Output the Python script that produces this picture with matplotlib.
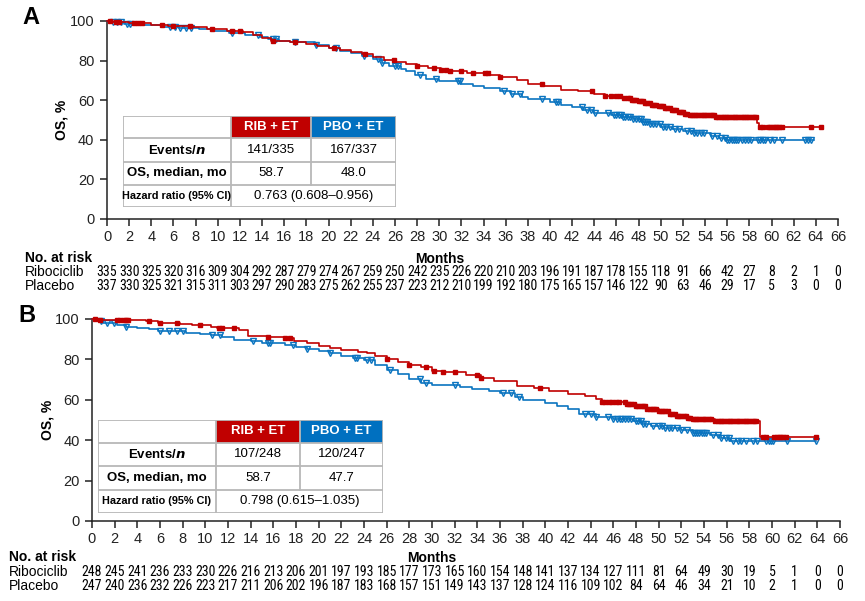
import numpy as np
import matplotlib
matplotlib.use("Agg")
import matplotlib.pyplot as plt
from matplotlib.patches import Rectangle
from matplotlib import font_manager as fm

plt.rcParams['font.family'] = ['Liberation Sans', 'DejaVu Sans']

# pick a narrow font for the at-risk numbers if available
_names = {f.name for f in fm.fontManager.ttflist}
NARROW = None
for _n in ['Liberation Sans Narrow', 'Roboto Condensed', 'Open Sans Condensed', 'Arial Narrow']:
    if _n in _names:
        NARROW = _n
        break
if NARROW:
    RISK_FONT = dict(family=[NARROW, 'DejaVu Sans'], size=10)
else:
    RISK_FONT = dict(family=['Liberation Sans', 'DejaVu Sans'], size=8.4)

W, H = 865, 601
RED = '#c00000'
BLUE = '#0a74c0'

months_ticks = list(range(0, 67, 2))
risk_rib_A = [335, 330, 325, 320, 316, 309, 304, 292, 287, 279, 274, 267, 259, 250, 242, 235, 226, 220, 210, 203, 196, 191, 187, 178, 155, 118, 91, 66, 42, 27, 8, 2, 1, 0]
risk_pbo_A = [337, 330, 325, 321, 315, 311, 303, 297, 290, 283, 275, 262, 255, 237, 223, 212, 210, 199, 192, 180, 175, 165, 157, 146, 122, 90, 63, 46, 29, 17, 5, 3, 0, 0]
risk_rib_B = [248, 245, 241, 236, 233, 230, 226, 216, 213, 206, 201, 197, 193, 185, 177, 173, 165, 160, 154, 148, 141, 137, 134, 127, 111, 81, 64, 49, 30, 19, 5, 1, 0, 0]
risk_pbo_B = [247, 240, 236, 232, 226, 223, 217, 211, 206, 202, 196, 187, 183, 168, 157, 151, 149, 143, 137, 128, 124, 116, 109, 102, 84, 64, 46, 34, 21, 10, 2, 1, 0, 0]

# Kaplan-Meier step points (months, OS %)
rib_A_t = [0, 0.5, 2, 4, 5.5, 7.8, 9, 10.8, 12.3, 13.2, 14, 14.8, 16.5, 18, 19, 20, 21, 22, 23, 24, 25, 26, 27, 28, 29, 30.2, 30.8, 32.5, 34.5, 35.5, 37, 38, 39.5, 41, 42.5, 44, 45, 46.5, 47.3, 47.9, 48.5, 49.1, 49.7, 50.3, 50.9, 51.5, 52.1, 52.5, 55, 58.7, 58.9, 64.5]
rib_A_s = [100, 99.5, 98.8, 98.2, 97.5, 97, 95.8, 94.8, 94.3, 93, 91.5, 90, 89.5, 88.5, 87.5, 86.5, 85.3, 84.3, 83.3, 82, 80.5, 79.3, 78.3, 77.5, 76.5, 75.5, 74.8, 73.5, 72.5, 71.5, 70, 68, 67, 65.3, 64.5, 63, 62, 61.3, 60.3, 59.4, 58.6, 57.8, 56.9, 55.9, 54.9, 54.0, 53.2, 52.5, 51.5, 48.5, 46.3, 46.3]
pbo_A_t = [0, 0.3, 1.5, 3, 5, 6.5, 8.3, 9.5, 11, 12.5, 13.8, 14.5, 15.5, 16.5, 18.8, 20, 21, 22, 23, 24, 24.8, 25.5, 26.5, 27, 27.8, 28.8, 30, 32, 33, 34, 35.5, 36.5, 37.5, 38, 40, 41, 42, 43, 44, 45.5, 46.5, 47.5, 48.3, 49, 50, 51, 52, 53, 54.5, 55.3, 56, 63.8]
pbo_A_s = [100, 99.3, 98.5, 97.8, 97, 96.3, 95.8, 95, 94, 93, 92, 91, 90, 89.5, 88, 86.5, 85, 83.8, 82.3, 81, 79, 77.3, 76, 74.5, 72.5, 70.5, 69.5, 68.3, 67.2, 66, 64.5, 63.3, 61.5, 60.5, 59, 57.5, 56.5, 55, 53.7, 52.5, 51.5, 50.3, 49, 48, 46.5, 45.5, 44.5, 43.5, 42, 41, 40, 40]
rib_B_t = [0, 0.5, 4.8, 5.8, 7.8, 8.8, 10.5, 11, 13, 13.8, 15.5, 17, 17.8, 19, 20, 21, 22, 23.5, 24.3, 25, 26, 27, 28, 29, 30, 31, 33, 34.3, 35.5, 37.5, 39, 40.3, 42, 43.5, 44.5, 45, 47.2, 48, 49, 50, 51, 51.5, 52.5, 53, 55, 58.9, 64]
rib_B_s = [100, 99.5, 99, 98, 97.5, 96.8, 96, 95.5, 94.5, 91.8, 91, 90.5, 89, 88, 86.8, 85.8, 84.5, 83.8, 83, 81.5, 80, 78.5, 77.3, 76, 74.5, 74, 72.5, 71, 69.5, 67, 66, 64.5, 63, 62, 60.3, 59, 58, 56.8, 55.5, 54.5, 53, 52, 51, 50.5, 49.3, 41.8, 41.8]
pbo_B_t = [0, 0.4, 1, 2.2, 3, 4, 5, 5.8, 8.3, 9.5, 10.5, 11.5, 12.5, 14, 15, 17, 18, 19, 20, 21, 22, 23, 24, 25, 26, 27, 28, 29, 30, 32.5, 33.5, 35, 36, 37.3, 38, 40, 41, 42, 43, 44.5, 46, 47.7, 48.5, 49.3, 50.5, 52, 53, 54.5, 55.5, 56.3, 63.9]
pbo_B_s = [100, 99, 98, 97.2, 96.2, 95.5, 95, 94, 93.3, 92.8, 92, 91.2, 89.5, 89, 88, 87, 86.3, 85.3, 84.3, 83, 81.5, 80.5, 79.5, 77.3, 75, 73, 70.5, 68.5, 67.5, 66.5, 65.5, 64.5, 63.2, 61.5, 60, 58.5, 57, 55.5, 53, 51.7, 50.5, 49.5, 48, 46.8, 46, 45, 43.8, 42.5, 41, 39.5, 39.5]

# censoring times (months)
cens_rib_A = [0.3, 0.8, 1.1, 2.4, 2.8, 3.2, 5.0, 6.0, 7.5, 9.5, 11.3, 12.0, 15.0, 17.0, 20.5, 23.3, 25.9, 28.0, 29.5, 30.2, 30.6, 31.0, 32.0, 33.0, 34.1, 34.4, 35.5, 39.3, 43.8, 45.0, 45.5, 46.0, 46.3, 46.7, 47.0, 47.2, 47.4, 47.6, 47.8, 48.0, 48.2, 48.4, 48.6, 48.8, 49.0, 49.2, 49.4, 49.6, 49.8, 50.0, 50.2, 50.4, 50.6, 50.8, 51.0, 51.2, 51.4, 51.6, 51.8, 52.0, 52.2, 52.4, 52.6, 52.8, 53.0, 53.2, 53.4, 53.6, 53.8, 54.0, 54.2, 54.4, 54.6, 54.8, 55.0, 55.2, 55.4, 55.6, 55.8, 56.0, 56.2, 56.4, 56.6, 56.8, 57.0, 57.2, 57.4, 57.6, 57.8, 58.0, 58.2, 58.4, 58.6, 59.0, 59.2, 59.7, 59.9, 60.1, 60.3, 60.5, 60.7, 60.9, 63.6, 64.5]
cens_pbo_A = [0.5, 0.9, 1.3, 1.8, 2.1, 5.7, 6.1, 6.6, 7.1, 7.6, 11.3, 13.6, 15.0, 15.3, 17.0, 18.9, 20.7, 23.2, 24.5, 24.8, 26.0, 26.3, 28.3, 29.7, 31.7, 31.9, 35.8, 36.6, 37.3, 39.3, 40.5, 40.7, 42.9, 43.3, 43.7, 44.1, 45.2, 45.8, 46.0, 46.2, 46.4, 46.6, 46.8, 47.0, 47.2, 47.5, 47.8, 48.0, 48.2, 48.4, 48.6, 48.8, 49.0, 49.3, 49.6, 49.9, 50.2, 50.5, 50.8, 51.3, 51.6, 52.4, 52.7, 53.0, 53.3, 53.6, 53.9, 54.6, 55.1, 55.4, 55.8, 56.0, 56.2, 56.4, 56.6, 56.8, 57.0, 57.3, 57.6, 57.9, 58.1, 58.8, 59.0, 59.2, 59.4, 59.9, 60.2, 60.9, 63.0, 63.3, 63.6]
cens_rib_B = [0.3, 0.7, 2.2, 2.5, 2.8, 3.0, 3.2, 5.0, 6.0, 7.5, 9.5, 11.2, 11.5, 12.5, 15.5, 17.0, 17.5, 26.0, 28.0, 29.5, 30.2, 31.0, 32.0, 34.0, 34.3, 39.5, 45.0, 45.3, 45.6, 45.9, 46.2, 46.5, 47.0, 47.2, 47.4, 47.6, 47.8, 48.0, 48.2, 48.4, 48.6, 48.8, 49.0, 49.2, 49.4, 49.6, 49.8, 50.0, 50.2, 50.4, 50.6, 50.8, 51.0, 51.2, 51.4, 51.6, 51.8, 52.0, 52.2, 52.4, 52.6, 52.8, 53.0, 53.2, 53.4, 53.6, 53.8, 54.0, 54.2, 54.4, 54.6, 55.0, 55.2, 55.4, 55.6, 55.8, 56.0, 56.2, 56.4, 56.6, 56.8, 57.0, 57.2, 57.4, 57.6, 57.8, 58.0, 58.2, 58.4, 58.6, 59.2, 59.5, 60.2, 60.4, 60.6, 60.8, 61.0, 61.2, 63.9]
cens_pbo_B = [0.8, 1.3, 1.9, 3.0, 6.0, 6.8, 7.5, 8.0, 10.6, 11.3, 14.2, 15.5, 15.7, 17.7, 19.0, 21.0, 23.2, 23.4, 24.3, 24.6, 26.3, 28.9, 29.5, 32.0, 36.3, 37.0, 37.7, 43.5, 44.0, 44.5, 45.5, 46.0, 46.3, 46.6, 46.8, 47.0, 47.3, 47.6, 48.0, 48.2, 48.4, 48.6, 48.9, 49.5, 50.0, 50.3, 50.6, 50.9, 51.2, 51.6, 52.0, 52.5, 53.0, 53.2, 53.4, 53.6, 53.8, 54.0, 54.2, 54.8, 55.2, 55.5, 55.9, 56.2, 56.6, 57.0, 57.3, 57.7, 58.3, 58.7, 59.5, 59.7, 59.9, 60.1, 61.3, 63.9]

table_A = {'events': ['141/335', '167/337'], 'median': ['58.7', '48.0'], 'hr': '0.763 (0.608–0.956)'}
table_B = {'events': ['107/248', '120/247'], 'median': ['58.7', '47.7'], 'hr': '0.798 (0.615–1.035)'}

fig = plt.figure(figsize=(W / 100, H / 100), dpi=100)
fig.patch.set_facecolor('white')


def step_val(t, s, c):
    t = np.asarray(t); s = np.asarray(s)
    idx = np.searchsorted(t, c, side='right') - 1
    return s[np.clip(idx, 0, len(s) - 1)]


def panel(letter, left, right, top, bottom, risk_rib, risk_pbo, rt, rs, pt, ps, cr, cp, tab, tabbox,
          label_x, ylab_x, months_y, risk_y1, risk_y2, letter_xy):
    ax = fig.add_axes([left / W, 1 - bottom / H, (right - left) / W, (bottom - top) / H])
    ax.set_xlim(0, 66)
    ax.set_ylim(0, 100)
    for sp in ['top', 'right']:
        ax.spines[sp].set_visible(False)
    for sp in ['left', 'bottom']:
        ax.spines[sp].set_linewidth(1.1)
        ax.spines[sp].set_color('#222222')
    ax.set_xticks(months_ticks)
    ax.set_yticks([0, 20, 40, 60, 80, 100])
    ax.tick_params(axis='both', labelsize=10.5, length=5, width=1.1, pad=3, colors='#222222')
    ax.tick_params(axis='y', pad=4)
    # curves
    ax.step(pt, ps, where='post', color=BLUE, lw=1.2, clip_on=False, zorder=3)
    ax.step(rt, rs, where='post', color=RED, lw=1.2, clip_on=False, zorder=4)
    ax.plot(cp, step_val(pt, ps, cp), ls='none', marker='v', ms=5, mfc='none', mec=BLUE, mew=1.0,
            clip_on=False, zorder=3)
    ax.plot(cr, step_val(rt, rs, cr), ls='none', marker='s', ms=3, mfc=RED, mec=RED,
            clip_on=False, zorder=4)
    # y label
    fig.text(ylab_x / W, 1 - ((top + bottom) / 2) / H, 'OS, %', rotation=90, fontsize=10,
             fontweight='bold', ha='center', va='center')
    fig.text(letter_xy[0] / W, 1 - letter_xy[1] / H, letter, fontsize=17, fontweight='bold',
             ha='left', va='center')
    # at risk
    tr = ax.get_xaxis_transform()
    hgt = bottom - top
    yax = lambda ypx: (bottom - ypx) / hgt
    fig.text(label_x / W, 1 - months_y / H, 'No. at risk', fontsize=10, fontweight='bold',
             ha='left', va='center')
    ax.text(30, yax(months_y + 1), 'Months', transform=tr, fontsize=10, fontweight='bold',
            ha='center', va='center')
    fig.text(label_x / W, 1 - risk_y1 / H, 'Ribociclib', fontsize=10, ha='left', va='center')
    fig.text(label_x / W, 1 - risk_y2 / H, 'Placebo', fontsize=10, ha='left', va='center')
    for m, a, b in zip(months_ticks, risk_rib, risk_pbo):
        ax.text(m, yax(risk_y1), str(a), transform=tr, ha='center', va='center', clip_on=False, **RISK_FONT)
        ax.text(m, yax(risk_y2), str(b), transform=tr, ha='center', va='center', clip_on=False, **RISK_FONT)
    # table
    x0, x1, x2, x3, y0, y1, y2, y3, y4 = tabbox
    tax = fig.add_axes([x0 / W, 1 - y4 / H, (x3 - x0) / W, (y4 - y0) / H])
    tax.set_xlim(x0, x3)
    tax.set_ylim(y4, y0)
    tax.axis('off')
    edge = '#b8b8b8'
    tax.add_patch(Rectangle((x0, y0), x3 - x0, y4 - y0, facecolor='white', edgecolor='none', zorder=1))
    tax.add_patch(Rectangle((x1, y0), x2 - x1, y1 - y0, facecolor=RED, edgecolor='none', zorder=2))
    tax.add_patch(Rectangle((x2, y0), x3 - x2, y1 - y0, facecolor='#0070c0', edgecolor='none', zorder=2))
    lw = 1.3
    for yy in [y0, y1, y2, y3, y4]:
        tax.plot([x0, x3], [yy, yy], color=edge, lw=lw, zorder=3, solid_capstyle='butt')
    for xx in [x0, x1, x3]:
        tax.plot([xx, xx], [y0, y4], color=edge, lw=lw, zorder=3)
    tax.plot([x2, x2], [y0, y3], color=edge, lw=lw, zorder=3)
    cx0, cx1, cx2 = (x0 + x1) / 2, (x1 + x2) / 2, (x2 + x3) / 2
    tax.text(cx1, (y0 + y1) / 2, 'RIB + ET', color='white', fontweight='bold', fontsize=9.5, ha='center', va='center', zorder=4)
    tax.text(cx2, (y0 + y1) / 2, 'PBO + ET', color='white', fontweight='bold', fontsize=9.5, ha='center', va='center', zorder=4)
    tax.text(cx0, (y1 + y2) / 2, r'Events/$\bfit{n}$', fontweight='bold', fontsize=9.5, ha='center', va='center', zorder=4)
    tax.text(cx0, (y2 + y3) / 2, 'OS, median, mo', fontweight='bold', fontsize=9.5, ha='center', va='center', zorder=4)
    tax.text(cx0, (y3 + y4) / 2, 'Hazard ratio (95% CI)', fontweight='bold', fontsize=7.8, ha='center', va='center', zorder=4)
    tax.text(cx1, (y1 + y2) / 2, tab['events'][0], fontsize=9.5, ha='center', va='center', zorder=4)
    tax.text(cx2, (y1 + y2) / 2, tab['events'][1], fontsize=9.5, ha='center', va='center', zorder=4)
    tax.text(cx1, (y2 + y3) / 2, tab['median'][0], fontsize=9.5, ha='center', va='center', zorder=4)
    tax.text(cx2, (y2 + y3) / 2, tab['median'][1], fontsize=9.5, ha='center', va='center', zorder=4)
    tax.text((x1 + x3) / 2, (y3 + y4) / 2, tab['hr'], fontsize=9.5, ha='center', va='center', zorder=4)
    return ax


panel('A', 107, 838, 21, 219, risk_rib_A, risk_pbo_A, rib_A_t, rib_A_s, pbo_A_t, pbo_A_s,
      cens_rib_A, cens_pbo_A, table_A, (123, 231, 311, 396, 116, 138, 162, 185, 207),
      label_x=25, ylab_x=62, months_y=258, risk_y1=272, risk_y2=286, letter_xy=(22, 18))
panel('B', 92, 840, 319, 521, risk_rib_B, risk_pbo_B, rib_B_t, rib_B_s, pbo_B_t, pbo_B_s,
      cens_rib_B, cens_pbo_B, table_B, (98, 216, 300, 383, 420, 443, 466, 490, 513),
      label_x=9, ylab_x=47, months_y=557, risk_y1=572, risk_y2=586, letter_xy=(18, 316))

fig.savefig('out.png', dpi=100, facecolor='white')
